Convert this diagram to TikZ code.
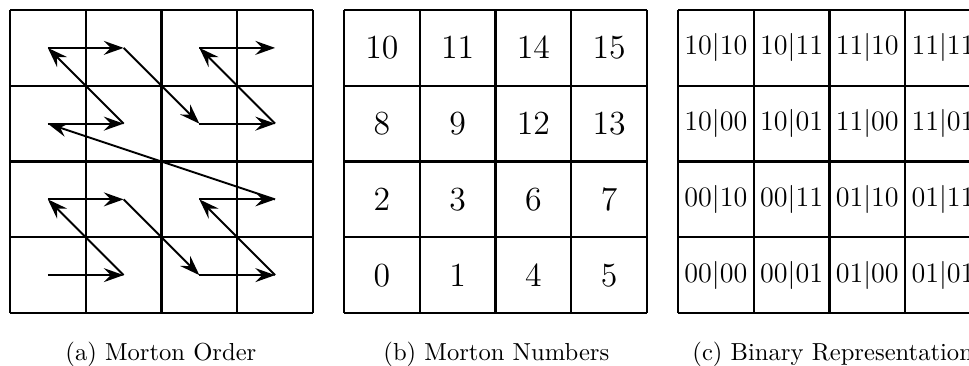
\documentclass[tikz,border=0pt]{standalone}
\usepackage{amsmath}
\usetikzlibrary{arrows.meta}

\begin{document}
\begin{tikzpicture}[
            cellgrid/.style={line width=0.9pt},
            zpath/.style={-{Stealth[length=8.5pt, width=6pt, inset=3pt]}, thick},
            cellnum/.style={font=\fontsize{14}{17}\selectfont, inner sep=0pt},
            cellbin/.style={font=\fontsize{12.4}{15}\selectfont, inner sep=0pt},
            subcap/.style={anchor=base west, inner sep=0pt, font=\fontsize{10.5}{12.5}\selectfont}
        ]
        \useasboundingbox (0,0) rectangle (14.535,5.475);

        % --- (a) MORTON ORDER ---
        \begin{scope}[shift={(0.15,0.78)}, scale=1.136]
            \draw[cellgrid] (0,0) grid (4,4);
            \foreach \n/\i/\j in {0/0/0, 1/1/0, 2/0/1, 3/1/1, 4/2/0, 5/3/0, 6/2/1, 7/3/1,
                    8/0/2, 9/1/2, 10/0/3, 11/1/3, 12/2/2, 13/3/2, 14/2/3, 15/3/3} {
                    \coordinate (m\n) at (\i+0.5, \j+0.5);
                }
            \foreach \a [count=\b] in {0,...,14} {
                    \draw[zpath] (m\a) -- (m\b);
                }
        \end{scope}

        % --- (b) MORTON NUMBERS ---
        \begin{scope}[shift={(5.16,0.78)}, scale=1.136]
            \draw[cellgrid] (0,0) grid (4,4);
            \foreach \n/\i/\j in {0/0/0, 1/1/0, 2/0/1, 3/1/1, 4/2/0, 5/3/0, 6/2/1, 7/3/1,
                    8/0/2, 9/1/2, 10/0/3, 11/1/3, 12/2/2, 13/3/2, 14/2/3, 15/3/3} {
                    \node[cellnum] (num\n) at (\i+0.5, \j+0.5) {$\n$};
                }
        \end{scope}

        % --- (c) BINARY REPRESENTATION ---
        \begin{scope}[shift={(10.17,0.78)}, scale=1.136]
            \draw[cellgrid] (0,0) grid (4,4);
            \foreach \n/\i/\j/\bits in {0/0/0/00|00, 1/1/0/00|01, 2/0/1/00|10, 3/1/1/00|11,
                    4/2/0/01|00, 5/3/0/01|01, 6/2/1/01|10, 7/3/1/01|11,
                    8/0/2/10|00, 9/1/2/10|01, 10/0/3/10|10, 11/1/3/10|11,
                    12/2/2/11|00, 13/3/2/11|01, 14/2/3/11|10, 15/3/3/11|11} {
                    \node[cellbin] (bin\n) at (\i+0.5, \j+0.5) {$\bits$};
                }
        \end{scope}

        % --- SOUS-LEGENDES ---
        \node[subcap] (capa) at (0.975, 0.075) {(a) Morton Order};
        \node[subcap] (capb) at (5.745, 0.075) {(b) Morton Numbers};
        \node[subcap] (capc) at (10.38, 0.075) {(c) Binary Representation};

    \end{tikzpicture}
\end{document}
